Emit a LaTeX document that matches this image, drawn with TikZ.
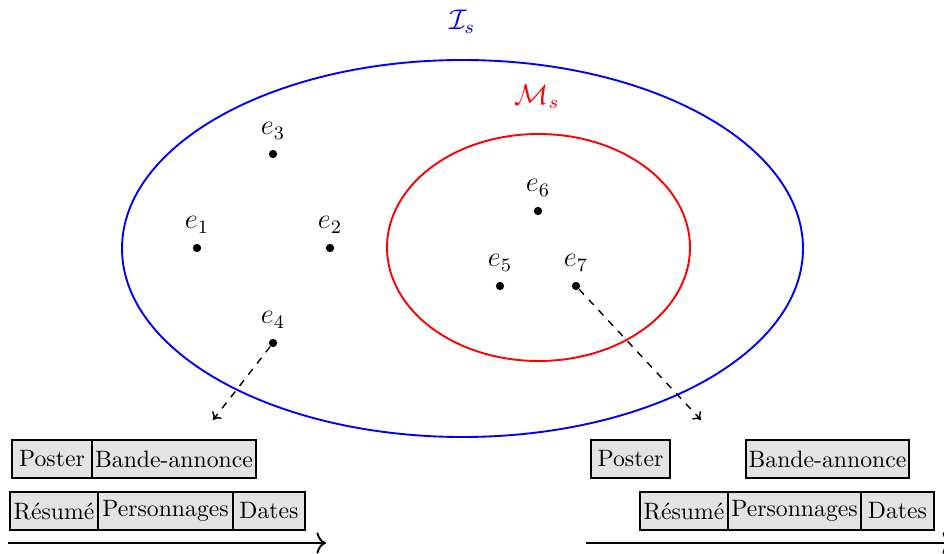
\documentclass[tikz,border=0pt]{standalone}
\usetikzlibrary{arrows.meta}
\begin{document}
\begin{tikzpicture}[x=0.4219pt,y=-0.4219pt,
  pt/.style={circle,fill=black,inner sep=0pt,minimum size=3.5pt},
  lab/.style={font=\large,inner sep=0pt},
  blk/.style={draw=black,line width=0.9pt,fill=gray!22,minimum height=16pt,inner sep=1pt,font=\normalsize},
  flow/.style={dashed,line width=0.6pt,-{To[length=3pt,width=5pt]}},
  axis/.style={line width=0.8pt,-{To[length=4pt,width=9pt]}}]
\useasboundingbox (0,0) rectangle (944,554);
% ellipses
\draw[blue,line width=0.8pt] (462.5,248.5) ellipse [x radius=340.5*0.4219pt, y radius=188.5*0.4219pt];
\draw[red,line width=0.8pt] (538.5,247.5) ellipse [x radius=151.5*0.4219pt, y radius=113.5*0.4219pt];
\node[lab,blue] (Is) at (462,22) {$\mathcal{I}_s$};
\node[lab,red] (Ms) at (537,97) {$\mathcal{M}_s$};
% points
\node[pt] (e1) at (197,248) {};
\node[pt] (e2) at (330,248) {};
\node[pt] (e3) at (273,154) {};
\node[pt] (e4) at (273,343) {};
\node[pt] (e5) at (500,286) {};
\node[pt] (e6) at (538,211) {};
\node[pt] (e7) at (576,286) {};
\node[lab] (l1) at (197,225) {$e_1$};
\node[lab] (l2) at (330,225) {$e_2$};
\node[lab] (l3) at (273,131) {$e_3$};
\node[lab] (l4) at (273,320) {$e_4$};
\node[lab] (l5) at (500,263) {$e_5$};
\node[lab] (l6) at (538,188) {$e_6$};
\node[lab] (l7) at (576,263) {$e_7$};
\coordinate (t4) at (213,420);
\coordinate (t7) at (701,420);
\draw[flow] (e4) -- (t4);
\draw[flow] (e7) -- (t7);
% left timeline
\node[blk,minimum width=33.8pt] (p1) at (52,459) {Poster};
\node[blk,minimum width=69.2pt] (b1) at (174,459) {Bande-annonce};
\node[blk,minimum width=37.1pt] (r1) at (54,511) {Résumé};
\node[blk,minimum width=57pt] (c1) at (165.5,511) {Personnages};
\node[blk,minimum width=30.4pt] (d1) at (269,511) {Dates};
\coordinate (a1s) at (8,543);
\coordinate (a1e) at (326,543);
\draw[axis] (a1s) -- (a1e);
% right timeline
\node[blk,minimum width=33.4pt] (p2) at (630.5,459) {Poster};
\node[blk,minimum width=68.8pt] (b2) at (827.5,459) {Bande-annonce};
\node[blk,minimum width=37.1pt] (r2) at (684,511) {Résumé};
\node[blk,minimum width=56.1pt] (c2) at (794.5,511) {Personnages};
\node[blk,minimum width=30.8pt] (d2) at (897.5,511) {Dates};
\coordinate (a2s) at (586,543);
\coordinate (a2e) at (952,543);
\draw[axis] (a2s) -- (a2e);
\end{tikzpicture}
\end{document}
